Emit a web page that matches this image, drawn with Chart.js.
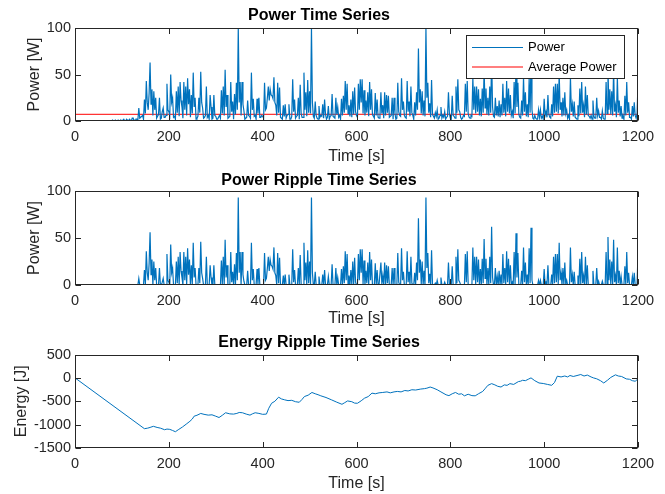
<!DOCTYPE html>
<html>
<head>
<meta charset="utf-8">
<script src="https://cdn.jsdelivr.net/npm/chart.js@4.4.1/dist/chart.umd.min.js"></script>
<style>
  body { margin: 0; background: #fff; }
  canvas { position: absolute; left: 0; }
</style>
</head>
<body>
<canvas id="powerChart" width="665" height="164" style="top:0"></canvas>
<canvas id="rippleChart" width="665" height="164" style="top:164px"></canvas>
<canvas id="energyChart" width="665" height="166" style="top:328px"></canvas>
<script>
// power log: samples at t = 0,4,8,...,1200 s plus the in-between samples at t = 2,6,...,1198 s
const sampleStep = 4;

// Power [W] at t = 0,4,8,... (one row = 100 s)
const powerW = [
  0,0,0,0,0,0,0,0,0,0,0,0,0,0,0,0,0,0,0,0,1,0,0,1,0,
  0,2,0,1,2,0,3,1,2,14,4,6,23,43,12,63,34,32,25,5,25,3,14,4,40,
  10,50,25,5,32,37,42,15,42,37,46,34,28,52,25,3,25,53,14,4,37,6,28,2,28,
  5,2,6,33,37,55,28,4,42,21,29,41,100,42,42,11,3,22,5,52,24,6,24,25,4,
  5,41,14,37,34,27,47,17,41,36,3,17,18,6,18,2,45,23,5,25,39,4,52,31,44,
  32,100,5,21,3,16,6,18,23,2,16,5,29,4,25,15,6,24,27,43,40,17,23,32,36,
  6,40,45,45,33,22,31,42,34,5,30,23,3,31,17,31,28,27,5,25,25,2,41,6,46,
  21,4,43,21,37,6,20,31,78,34,32,22,100,41,19,44,5,9,12,3,15,6,10,4,31,
  3,27,5,37,45,10,2,6,40,43,4,6,47,37,37,34,24,35,56,35,25,37,69,5,25,
  16,22,18,40,25,43,35,28,10,42,62,41,4,22,47,31,18,46,68,3,6,2,12,12,5,
  24,10,28,4,18,37,40,40,52,20,25,31,12,6,47,18,21,3,17,35,42,17,37,28,5,
  6,22,3,25,11,4,11,2,42,58,34,32,55,17,47,22,16,5,27,42,20,4,16,20,3,
  40
];
// Power [W] at t = 2,6,10,...
const powerMidW = [
  0,0,0,0,0,0,0,0,0,0,0,0,0,0,0,0,0,0,0,0,0,1,0,0,1,
  1,0,2,0,1,3,0,2,1,3,5,2,8,20,30,18,6,12,3,7,2,10,4,6,12,
  6,20,4,2,9,5,22,3,12,6,18,4,8,15,2,5,9,20,3,6,4,2,15,3,6,
  2,4,3,8,6,15,3,5,10,2,7,12,20,6,18,2,4,6,3,12,5,2,8,4,6,
  3,12,25,22,28,24,20,6,9,4,2,5,3,7,2,5,10,3,6,2,8,4,12,5,9,
  8,20,3,6,2,4,5,3,7,4,2,6,5,3,7,4,2,6,9,12,8,5,4,7,10,
  4,12,20,8,6,9,5,12,7,3,6,4,5,8,3,6,9,4,6,2,8,3,10,5,12,
  6,3,10,5,9,2,6,12,20,8,6,5,25,9,4,7,3,5,2,6,3,4,2,5,8,
  2,6,3,9,12,4,3,5,10,8,3,5,12,8,10,6,5,9,14,7,6,9,15,4,6,
  5,4,6,9,5,10,8,6,3,8,15,7,3,6,10,5,4,9,12,2,3,2,4,3,2,
  6,4,7,3,5,9,10,8,12,5,6,8,3,2,10,5,4,2,5,8,9,4,7,6,3,
  2,5,3,6,4,2,3,2,8,12,7,6,10,4,9,5,3,2,6,9,4,2,5,6,8
];

// Power ripple [W] (power above the average), t = 0,4,8,...
const rippleW = [
  0,0,0,0,0,0,0,0,0,0,0,0,0,0,0,0,0,0,0,0,0,0,0,0,0,
  0,0,0,0,0,0,0,0,0,7,0,0,16,36,5,56,27,25,18,0,18,0,7,0,33,
  3,43,18,0,25,30,35,8,35,30,39,27,21,45,18,0,18,46,7,0,30,0,21,0,21,
  0,0,0,26,30,48,21,0,35,14,22,34,93,35,35,4,0,15,0,45,17,0,17,18,0,
  0,34,7,30,27,20,40,10,34,29,0,10,11,0,11,0,38,16,0,18,32,0,45,24,37,
  25,93,0,14,0,9,0,11,16,0,9,0,22,0,18,8,0,17,20,36,33,10,16,25,29,
  0,33,38,38,26,15,24,35,27,0,23,16,0,24,10,24,21,20,0,18,18,0,34,0,39,
  14,0,36,14,30,0,13,24,71,27,25,15,93,34,12,37,0,2,5,0,8,0,3,0,24,
  0,20,0,30,38,3,0,0,33,36,0,0,40,30,30,27,17,28,49,28,18,30,62,0,18,
  9,15,11,33,18,36,28,21,3,35,55,34,0,15,40,24,11,39,61,0,0,0,5,5,0,
  17,3,21,0,11,30,33,33,45,13,18,24,5,0,40,11,14,0,10,28,35,10,30,21,0,
  0,15,0,18,4,0,4,0,35,51,27,25,48,10,40,15,9,0,20,35,13,0,9,13,0,
  33
];
// Power ripple [W], t = 2,6,10,...
const rippleMidW = [
  0,0,0,0,0,0,0,0,0,0,0,0,0,0,0,0,0,0,0,0,0,0,0,0,0,
  0,0,0,0,0,0,0,0,0,0,0,0,1,13,23,11,0,5,0,0,0,3,0,0,5,
  0,13,0,0,2,0,15,0,5,0,11,0,1,8,0,0,2,13,0,0,0,0,8,0,0,
  0,0,0,1,0,8,0,0,3,0,0,5,13,0,11,0,0,0,0,5,0,0,1,0,0,
  0,5,18,15,21,17,13,0,2,0,0,0,0,0,0,0,3,0,0,0,1,0,5,0,2,
  1,13,0,0,0,0,0,0,0,0,0,0,0,0,0,0,0,0,2,5,1,0,0,0,3,
  0,5,13,1,0,2,0,5,0,0,0,0,0,1,0,0,2,0,0,0,1,0,3,0,5,
  0,0,3,0,2,0,0,5,13,1,0,0,18,2,0,0,0,0,0,0,0,0,0,0,1,
  0,0,0,2,5,0,0,0,3,1,0,0,5,1,3,0,0,2,7,0,0,2,8,0,0,
  0,0,0,2,0,3,1,0,0,1,8,0,0,0,3,0,0,2,5,0,0,0,0,0,0,
  0,0,0,0,0,2,3,1,5,0,0,1,0,0,3,0,0,0,0,1,2,0,0,0,0,
  0,0,0,0,0,0,0,0,1,5,0,0,3,0,2,0,0,0,0,2,0,0,0,0,1
];

const avgPower = 7.2;

// Energy ripple [J]
const energyTime = [0,148,155,160,167,175,182,191,196,202,208,214,220,229,237,245,250,254,260,268,275,284,292,300,307,314,321,330,338,345,350,357,365,373,378,384,392,400,408,413,419,426,434,440,447,454,462,470,478,484,489,497,505,512,518,524,535,547,558,569,575,581,590,596,602,610,617,625,633,640,648,656,665,672,680,687,695,703,710,718,726,737,745,750,757,763,772,780,791,797,804,811,818,824,830,838,846,853,860,869,875,880,888,895,901,908,915,921,927,935,945,950,954,960,966,972,980,989,998,1007,1016,1022,1028,1036,1044,1050,1055,1062,1070,1078,1085,1092,1100,1105,1112,1120,1127,1135,1142,1152,1158,1165,1175,1182,1188,1194,1200];
const energyJ = [0,-1087,-1075,-1060,-1036,-1060,-1075,-1109,-1095,-1101,-1125,-1152,-1110,-1051,-990,-928,-880,-819,-800,-761,-780,-797,-790,-820,-848,-800,-746,-770,-775,-760,-740,-746,-775,-797,-770,-746,-760,-780,-775,-650,-543,-500,-413,-450,-470,-486,-480,-510,-522,-460,-399,-370,-312,-340,-360,-384,-420,-471,-520,-565,-530,-493,-510,-540,-543,-490,-435,-400,-326,-340,-320,-312,-300,-320,-300,-290,-300,-270,-280,-254,-260,-239,-230,-220,-196,-215,-254,-300,-362,-380,-340,-312,-350,-340,-384,-350,-380,-384,-340,-290,-220,-160,-123,-150,-180,-196,-150,-160,-123,-140,-80,-70,-51,-60,-30,0,-60,-109,-120,-140,-159,-100,36,20,40,20,51,30,50,72,40,60,20,0,-20,-60,-109,-50,10,65,40,30,-22,-30,-60,-72,-22];

const timeTicks = { min: 0, max: 1200, step: 200 };

const FONT = '"Liberation Sans", Arial, Helvetica, sans-serif';
const AXIS = '#262626';
const BLUE = '#0072BD';

// merge the on-grid and in-between samples into one time ordered series
function interleave(main, mid) {
  const pts = [];
  main.forEach((v, i) => {
    pts.push({ x: i * sampleStep, y: v });
    if (i < mid.length) pts.push({ x: i * sampleStep + sampleStep / 2, y: mid[i] });
  });
  return pts;
}

// box round the axes + inward ticks on all four sides, like matlab
const matlabBox = {
  id: 'matlabBox',
  afterDatasetsDraw(chart) {
    const { ctx, chartArea: a, scales: { x, y } } = chart;
    const len = 5.5;
    const L = Math.round(a.left) + 0.5, R = Math.round(a.right) - 0.5;
    const T = Math.round(a.top) + 0.5, B = Math.round(a.bottom) - 0.5;
    ctx.save();
    ctx.strokeStyle = AXIS;
    ctx.lineWidth = 1;
    ctx.beginPath();
    x.ticks.forEach(t => {
      const px = Math.round(x.getPixelForValue(t.value)) + 0.5;
      ctx.moveTo(px, B); ctx.lineTo(px, B - len);
      ctx.moveTo(px, T); ctx.lineTo(px, T + len);
    });
    y.ticks.forEach(t => {
      const py = Math.round(y.getPixelForValue(t.value)) + 0.5;
      ctx.moveTo(L, py); ctx.lineTo(L + len, py);
      ctx.moveTo(R, py); ctx.lineTo(R - len, py);
    });
    ctx.stroke();
    ctx.strokeRect(L, T, R - L, B - T);
    ctx.restore();
  }
};

// legend drawn inside the axes, top right
const boxLegend = {
  id: 'boxLegend',
  afterDatasetsDraw(chart) {
    const { ctx, chartArea: a } = chart;
    const w = 158, h = 43;
    const left = Math.round(a.right - 14 - w), top = Math.round(a.top + 7);
    ctx.save();
    ctx.fillStyle = '#fff';
    ctx.fillRect(left, top, w, h);
    ctx.strokeStyle = AXIS;
    ctx.lineWidth = 1;
    ctx.strokeRect(left + 0.5, top + 0.5, w, h);
    ctx.font = '13px ' + FONT;
    ctx.textBaseline = 'middle';
    chart.data.datasets.forEach((ds, i) => {
      const yy = top + 12.5 + i * 19.5;
      ctx.strokeStyle = ds.borderColor;
      ctx.lineWidth = 1.2;
      ctx.beginPath();
      ctx.moveTo(left + 6, yy);
      ctx.lineTo(left + 57, yy);
      ctx.stroke();
      ctx.fillStyle = '#000';
      ctx.fillText(ds.label, left + 62, yy);
    });
    ctx.restore();
  }
};

function makeOptions(cfg) {
  return {
    responsive: false,
    animation: false,
    layout: { padding: { left: 0, right: 27, top: 0, bottom: 0 } },
    elements: { point: { radius: 0 }, line: { tension: 0 } },
    plugins: {
      legend: { display: false },
      tooltip: { enabled: false },
      title: {
        display: true,
        text: cfg.title,
        color: '#000',
        font: { family: FONT, size: 16, weight: 'bold' },
        padding: cfg.titlePad
      }
    },
    scales: {
      x: {
        type: 'linear',
        min: timeTicks.min,
        max: timeTicks.max,
        grid: { display: false, drawTicks: false },
        border: { display: false },
        ticks: { stepSize: timeTicks.step, padding: 7, color: AXIS, font: { family: FONT, size: 14.5 }, maxRotation: 0, callback: v => String(v) },
        title: { display: true, text: 'Time [s]', color: AXIS, font: { family: FONT, size: 16 }, padding: { top: 0, bottom: cfg.xTitlePad } },
        afterFit: s => { s.height = cfg.xHeight; }
      },
      y: {
        min: cfg.yMin,
        max: cfg.yMax,
        grid: { display: false, drawTicks: false },
        border: { display: false },
        ticks: { stepSize: cfg.yStep, padding: 4, color: AXIS, font: { family: FONT, size: 14.5 }, callback: v => String(v) },
        title: { display: true, text: cfg.yLabel, color: AXIS, font: { family: FONT, size: 16 }, padding: { top: cfg.yTitlePad, bottom: 0 } },
        afterFit: s => { s.width = 75; }
      }
    }
  };
}

new Chart(document.getElementById('powerChart'), {
  type: 'line',
  data: {
    datasets: [
      {
        label: 'Power',
        data: interleave(powerW, powerMidW),
        borderColor: BLUE,
        borderWidth: 1.2
      },
      {
        label: 'Average Power',
        data: [{ x: timeTicks.min, y: avgPower }, { x: timeTicks.max, y: avgPower }],
        borderColor: '#FF0000',
        borderWidth: 1
      }
    ]
  },
  options: makeOptions({
    title: 'Power Time Series', titlePad: { top: 6.4, bottom: 2.4 },
    xHeight: 43, xTitlePad: -2.3,
    yMin: 0, yMax: 100, yStep: 50, yLabel: 'Power [W]', yTitlePad: 25
  }),
  plugins: [matlabBox, boxLegend]
});

new Chart(document.getElementById('rippleChart'), {
  type: 'line',
  data: {
    datasets: [{
      label: 'Power Ripple',
      data: interleave(rippleW, rippleMidW),
      borderColor: BLUE,
      borderWidth: 1.2
    }]
  },
  options: makeOptions({
    title: 'Power Ripple Time Series', titlePad: { top: 7.1, bottom: 0.7 },
    xHeight: 43, xTitlePad: 0,
    yMin: 0, yMax: 100, yStep: 50, yLabel: 'Power [W]', yTitlePad: 25
  }),
  plugins: [matlabBox]
});

new Chart(document.getElementById('energyChart'), {
  type: 'line',
  data: {
    datasets: [{
      label: 'Energy Ripple',
      data: energyTime.map((t, i) => ({ x: t, y: energyJ[i] })),
      borderColor: BLUE,
      borderWidth: 1
    }]
  },
  options: makeOptions({
    title: 'Energy Ripple Time Series', titlePad: { top: 4.7, bottom: 2.6 },
    xHeight: 46, xTitlePad: 1,
    yMin: -1500, yMax: 500, yStep: 500, yLabel: 'Energy [J]', yTitlePad: 12
  }),
  plugins: [matlabBox]
});
</script>
</body>
</html>
